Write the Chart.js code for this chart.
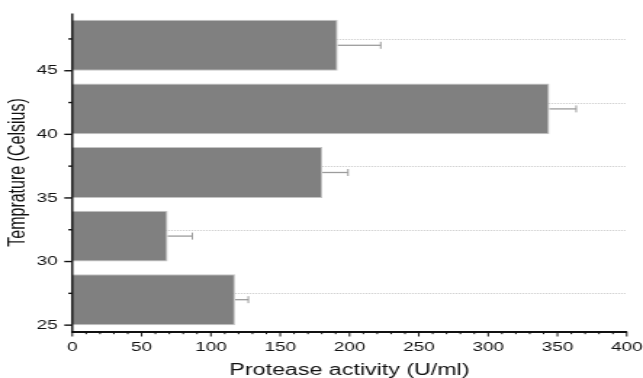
<!DOCTYPE html>
<html>
<head>
<meta charset="utf-8">
<script src="https://cdn.jsdelivr.net/npm/chart.js@4.4.1/dist/chart.umd.min.js"></script>
<style>
  html, body { margin: 0; padding: 0; background: #fff; overflow: hidden; }
</style>
</head>
<body>
<!-- the original figure is stretched sideways, so the canvas is drawn narrow and widened -->
<canvas id="chart" width="443" height="378" style="display:block;width:643px;height:378px"></canvas>
<script>
// bar positions on the temperature axis and their values
const temps = [27, 32, 37, 42, 47];
const activity = [117.4, 68.8, 180.4, 344.2, 191.5];
const errors = [9.6, 17.8, 18.5, 19.3, 31.0];

// tick labels
const xTicks = [0, 50, 100, 150, 200, 250, 300, 350, 400];
const yTicks = [25, 30, 35, 40, 45];
const yMinor = [27.5, 32.5, 37.5, 42.5, 47.5];

const FONT = 'Liberation Sans, Arial, sans-serif';
const INK = '#111111';

// fixed axis sizes, no label overhang padding
function fixSize(prop, size) {
    return scale => {
        scale[prop] = size;
        scale.paddingLeft = scale.paddingRight = scale.paddingTop = scale.paddingBottom = 0;
    };
}

// gridlines, error bars, axis line and tick marks
const axisDecor = {
    id: 'axisDecor',
    beforeDatasetsDraw(chart) {
        const { ctx, chartArea, scales: { y } } = chart;
        ctx.save();
        ctx.strokeStyle = '#c8c8c8';
        ctx.lineWidth = 1;
        ctx.setLineDash([1, 1]);
        yMinor.forEach(v => {
            const py = Math.round(y.getPixelForValue(v)) + 0.5;
            ctx.beginPath();
            ctx.moveTo(chartArea.left, py);
            ctx.lineTo(chartArea.right, py);
            ctx.stroke();
        });
        ctx.restore();
    },
    afterDatasetsDraw(chart) {
        const { ctx, chartArea, scales: { x, y } } = chart;
        ctx.save();

        // error bars (positive side only)
        ctx.strokeStyle = '#9c9c9c';
        temps.forEach((t, i) => {
            const py = y.getPixelForValue(t);
            const x0 = x.getPixelForValue(activity[i]);
            const x1 = x.getPixelForValue(activity[i] + errors[i]);
            ctx.lineWidth = 1.3;
            ctx.beginPath();
            ctx.moveTo(x0, py);
            ctx.lineTo(x1, py);
            ctx.stroke();
            ctx.lineWidth = 1;
            ctx.beginPath();
            ctx.moveTo(x1, py - 3.5);
            ctx.lineTo(x1, py + 3.5);
            ctx.stroke();
        });

        // y axis line
        ctx.strokeStyle = INK;
        ctx.lineWidth = 1.4;
        ctx.beginPath();
        ctx.moveTo(chartArea.left, chartArea.top);
        ctx.lineTo(chartArea.left, chartArea.bottom + 1);
        ctx.stroke();

        // y ticks
        ctx.lineWidth = 1.4;
        yTicks.forEach(v => {
            const py = y.getPixelForValue(v);
            ctx.beginPath();
            ctx.moveTo(chartArea.left - 5.5, py);
            ctx.lineTo(chartArea.left, py);
            ctx.stroke();
        });
        yMinor.forEach(v => {
            const py = y.getPixelForValue(v);
            ctx.beginPath();
            ctx.moveTo(chartArea.left - 2.7, py);
            ctx.lineTo(chartArea.left, py);
            ctx.stroke();
        });

        // x ticks, minor every 10
        ctx.lineWidth = 1;
        for (let v = 0; v <= 400; v += 10) {
            const px = x.getPixelForValue(v);
            const len = v % 50 === 0 ? 5 : 2.7;
            ctx.beginPath();
            ctx.moveTo(px, chartArea.bottom);
            ctx.lineTo(px, chartArea.bottom + len);
            ctx.stroke();
        }
        ctx.restore();
    }
};

const ctx = document.getElementById('chart').getContext('2d');

new Chart(ctx, {
    type: 'bar',
    data: {
        datasets: [{
            data: temps.map((t, i) => ({ x: activity[i], y: t })),
            backgroundColor: '#808080',
            borderColor: '#c4c4c4',
            borderWidth: 1,
            categoryPercentage: 0.8,
            barPercentage: 1
        }]
    },
    options: {
        indexAxis: 'y',
        responsive: false,
        animation: false,
        events: [],
        layout: { padding: { top: 13.5, right: 11.2, left: 0, bottom: 0 } },
        plugins: {
            legend: { display: false },
            tooltip: { enabled: false }
        },
        scales: {
            x: {
                type: 'linear',
                min: 0,
                max: 400,
                afterBuildTicks: scale => { scale.ticks = xTicks.map(v => ({ value: v })); },
                afterFit: fixSize('height', 46.5),
                grid: { display: false, drawTicks: false },
                border: { display: true, color: INK, width: 2 },
                ticks: {
                    autoSkip: false,
                    maxRotation: 0,
                    padding: 8,
                    color: INK,
                    font: { family: FONT, size: 13 }
                },
                title: {
                    display: true,
                    text: 'Protease activity (U/ml)',
                    color: INK,
                    padding: { top: 0, bottom: -2 },
                    font: { family: FONT, size: 16 }
                }
            },
            y: {
                type: 'linear',
                min: 24.5,
                max: 49.5,
                offset: false,
                afterBuildTicks: scale => { scale.ticks = yTicks.map(v => ({ value: v })); },
                afterFit: fixSize('width', 49.8),
                grid: { display: false, drawTicks: false, offset: false },
                border: { display: false },
                ticks: {
                    autoSkip: false,
                    padding: 10,
                    color: INK,
                    font: { family: FONT, size: 13 }
                },
                title: {
                    display: true,
                    text: 'Temprature (Celsius)',
                    color: INK,
                    padding: { top: 3, bottom: 0 },
                    font: { family: FONT, size: 16 }
                }
            }
        }
    },
    plugins: [axisDecor]
});
</script>
</body>
</html>
